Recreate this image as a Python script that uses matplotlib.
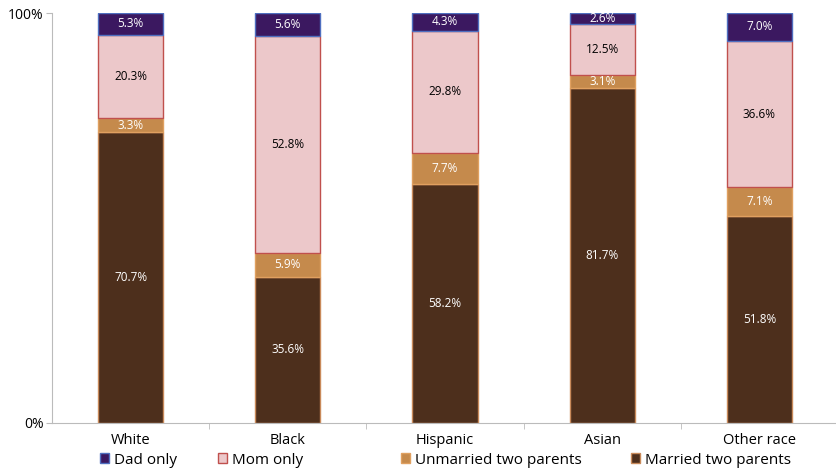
import numpy as np
import matplotlib.pyplot as plt
from matplotlib.patches import Patch

plt.rcParams['font.family'] = ['Open Sans', 'DejaVu Sans']

# 数据
categories = ['White', 'Black', 'Hispanic', 'Asian', 'Other race']
married = [70.7, 35.6, 58.2, 81.7, 51.8]
unmarried = [3.3, 5.9, 7.7, 3.1, 7.1]
mom_only = [20.3, 52.8, 29.8, 12.5, 36.6]
dad_only = [5.3, 5.6, 4.3, 2.6, 7.0]

series = [
    ('Married two parents', married, '#4d2f1c', '#c98a5a', 'white'),
    ('Unmarried two parents', unmarried, '#c58a4c', '#e0a060', 'white'),
    ('Mom only', mom_only, '#ecc8ca', '#c0504d', 'black'),
    ('Dad only', dad_only, '#3b1860', '#4f6fc0', 'white'),
]

fig = plt.figure(figsize=(8.36, 4.72), dpi=100)
ax = fig.add_axes([52 / 836, 49 / 472, 786 / 836, 410 / 472])

x = np.arange(len(categories))
# 100% 堆叠：按每列总和归一化
totals = np.sum([s[1] for s in series], axis=0)
bottom = np.zeros(len(categories))
for name, vals, fc, ec, tc in series:
    vals = np.array(vals)
    h = vals / totals * 100
    ax.bar(x, h, width=0.415, bottom=bottom, color=fc, edgecolor=ec,
           linewidth=1.0, label=name)
    for xi, b, hh, v in zip(x, bottom, h, vals):
        ax.text(xi, b + hh / 2, f'{v:.1f}%', ha='center', va='center',
                color=tc, fontsize=8.5)
    bottom += h

ax.set_xlim(-0.5, 4.5)
ax.set_ylim(0, 100)
ax.set_yticks([0, 100])
ax.set_yticklabels(['0%', '100%'], fontsize=10)
ax.set_xticks(x)
ax.set_xticklabels(categories, fontsize=10.5)
ax.tick_params(axis='x', length=0, pad=7)
ax.set_xticks([0.5, 1.5, 2.5, 3.5], minor=True)
ax.tick_params(axis='x', which='minor', length=4, color='#bbbbbb')
ax.tick_params(axis='y', length=4, color='#bbbbbb', pad=2)
for s in ['top', 'right']:
    ax.spines[s].set_visible(False)
ax.spines['left'].set_color('#bbbbbb')
ax.spines['bottom'].set_color('#bbbbbb')

# 图例：逐项放置
legend_x = [100, 218, 401, 631]
for lx, (name, _, fc, ec, _) in zip(legend_x, series[::-1]):
    fig.legend(handles=[Patch(facecolor=fc, edgecolor=ec, label=name)],
               loc='center left', bbox_to_anchor=(lx / 836, 12 / 472),
               frameon=False, fontsize=11, handlelength=0.6, handleheight=0.6,
               handletextpad=0.3, borderpad=0, borderaxespad=0)

plt.savefig('out.png', dpi=100)
